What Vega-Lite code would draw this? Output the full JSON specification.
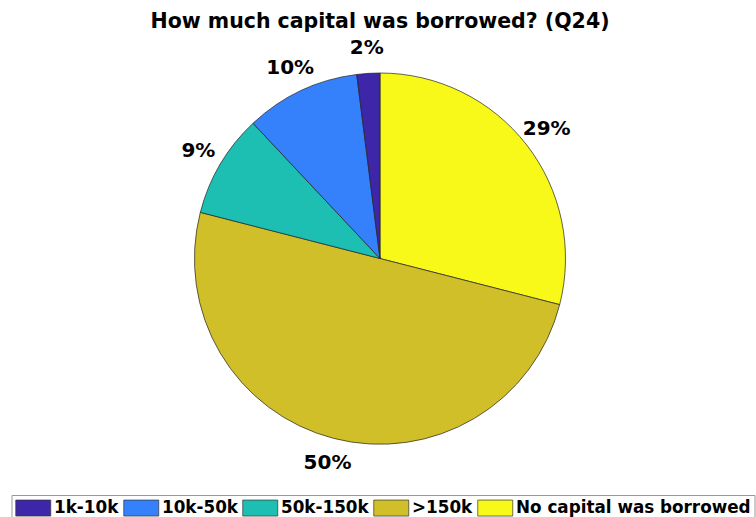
{
  "$schema": "https://vega.github.io/schema/vega-lite/v6.json",
  "width": 760,
  "height": 517,
  "autosize": "none",
  "padding": 0,
  "background": "white",
  "title": {
    "text": "How much capital was borrowed? (Q24)",
    "font": "DejaVu Sans",
    "fontSize": 20.5,
    "fontWeight": "bold",
    "color": "black",
    "anchor": "middle",
    "offset": -32
  },
  "data": {
    "values": [
      {"category": "No capital was borrowed", "share": 0.29, "rank": 1},
      {"category": ">150k", "share": 0.50, "rank": 2},
      {"category": "50k-150k", "share": 0.09, "rank": 3},
      {"category": "10k-50k", "share": 0.10, "rank": 4},
      {"category": "1k-10k", "share": 0.02, "rank": 5}
    ]
  },
  "encoding": {
    "theta": {"field": "share", "type": "quantitative", "stack": true},
    "order": {"field": "rank", "type": "quantitative"}
  },
  "layer": [
    {
      "mark": {"type": "arc", "outerRadius": 185.5, "stroke": "#222222", "strokeWidth": 0.7},
      "encoding": {
        "color": {
          "field": "category",
          "type": "nominal",
          "scale": {
            "domain": ["1k-10k", "10k-50k", "50k-150k", ">150k", "No capital was borrowed"],
            "range": ["#3e26a8", "#3580fb", "#1cbfb2", "#d1bf2a", "#f8f919"]
          },
          "legend": {
            "title": null,
            "orient": "none",
            "legendX": 11.5,
            "legendY": 495,
            "direction": "horizontal",
            "columns": 5,
            "padding": 3.5,
            "strokeColor": "#999999",
            "fillColor": "white",
            "symbolType": "M-1,-0.914H3V0.914H-1Z",
            "symbolSize": 306,
            "symbolStrokeColor": "#333333",
            "symbolStrokeWidth": 0.7,
            "symbolOpacity": 1,
            "labelFont": "DejaVu Sans",
            "labelFontSize": 16.8,
            "labelFontWeight": "bold",
            "labelColor": "black",
            "labelOffset": 20,
            "columnPadding": 3,
            "labelLimit": 300
          }
        }
      }
    },
    {
      "mark": {"type": "text", "radius": 211, "font": "DejaVu Sans", "fontSize": 20, "fontWeight": "bold", "color": "black", "align": "center", "baseline": "middle"},
      "encoding": {
        "text": {"field": "share", "type": "quantitative", "format": ".0%"}
      }
    }
  ]
}
